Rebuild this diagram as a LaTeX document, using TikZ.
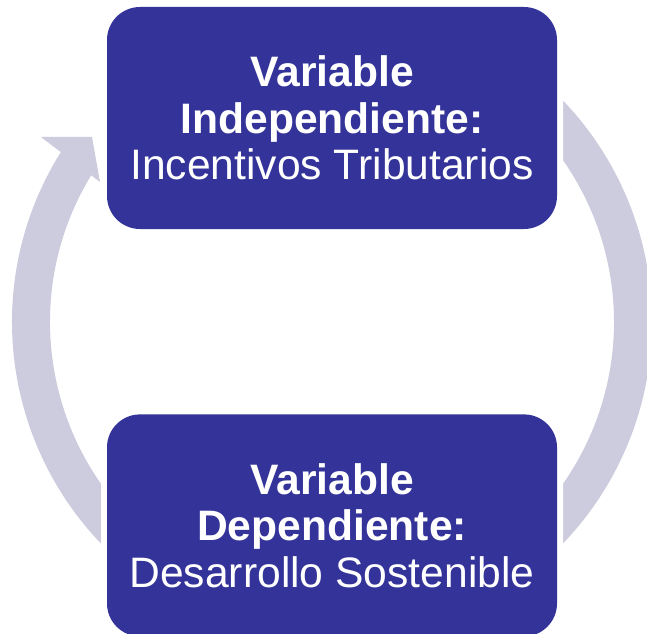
\documentclass[tikz,border=0pt]{standalone}
\usepackage{fontspec}
\setmainfont{Liberation Sans}
\usepackage{tikz}
\usetikzlibrary{calc}
\usetikzlibrary{positioning}
\definecolor{boxblue}{RGB}{51,51,153}
\definecolor{ringgray}{RGB}{204,204,222}

\begin{document}
\begin{tikzpicture}[x=1pt,y=1pt]
	\useasboundingbox (0,0) rectangle (647,633);
	\coordinate (c) at (332,311);

	\begin{scope}[every path/.style={fill=ringgray}]
		% right half, top to bottom
		\path ($(c)+(50:320)$) arc[start angle=50,end angle=-50,radius=320]
			-- ($(c)+(-50:282)$) arc[start angle=-50,end angle=50,radius=282] -- cycle;
		% left half, bottom to top
		\path ($(c)+(235:320)$) arc[start angle=235,end angle=147.3,radius=320]
			-- ($(c)+(147.3:282)$) arc[start angle=147.3,end angle=235,radius=282] -- cycle;
		\coordinate (barbout) at (41,496);
		\coordinate (tip) at (92,496);
		\coordinate (barbin) at (100,451);
		\path (barbout) -- (tip) -- (barbin) -- cycle;
	\end{scope}

	\begin{scope}[every node/.style={rectangle, rounded corners=33pt, fill=boxblue, text=white,
	              minimum width=450pt, minimum height=222pt, align=center,
	              font=\fontsize{42.6}{46.5}\selectfont,
	              preaction={draw=white, line width=12pt}}]
		\node (indep) at (332,515) {\textbf{Variable}\\\textbf{Independiente:}\\Incentivos Tributarios};
		\node (dep) [below=185pt of indep] {\textbf{Variable}\\\textbf{Dependiente:}\\Desarrollo Sostenible};
	\end{scope}
\end{tikzpicture}
\end{document}
